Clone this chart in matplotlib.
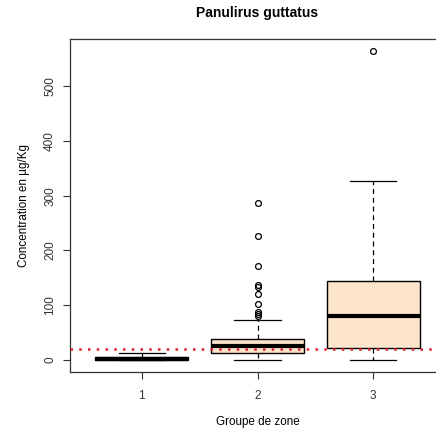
import matplotlib.pyplot as plt

plt.rcParams['font.family'] = ['Liberation Sans', 'DejaVu Sans']

# valeurs (µg/Kg)
groupes = ["1", "2", "3"]
q1 = [0, 11.5, 20.5]
mediane = [2, 25, 79]
q3 = [4, 38, 143]
moustache_bas = [0, 0, 0]
moustache_haut = [12, 73, 326]
aberrants = [
    [],
    [79, 84, 88, 101, 120, 133, 136, 171, 227, 287],
    [564],
]
seuil = 20
yticks = [0, 100, 200, 300, 400, 500]

stats = []
for i in range(len(groupes)):
    stats.append({
        "label": groupes[i],
        "q1": q1[i], "med": mediane[i], "q3": q3[i],
        "whislo": moustache_bas[i], "whishi": moustache_haut[i],
        "fliers": aberrants[i],
    })

fig = plt.figure(figsize=(4.36, 4.34), dpi=100)
ax = fig.add_axes([0.1606, 0.1429, 0.86, 0.767])

ax.bxp(stats, positions=[1, 2, 3], widths=0.8, patch_artist=True,
       boxprops=dict(facecolor="#fde5cc", edgecolor="black", linewidth=1),
       medianprops=dict(color="black", linewidth=3),
       whiskerprops=dict(color="black", linestyle=(0, (4, 3)), linewidth=0.9),
       capprops=dict(color="black", linewidth=0.9),
       capwidths=0.4,
       flierprops=dict(marker="o", markerfacecolor="none", markeredgecolor="black",
                       markersize=4.2, markeredgewidth=0.9))

ax.axhline(seuil, color="#e0202a", linestyle=(0, (1, 2.5)), linewidth=1.8, zorder=5)

ax.set_xlim(0.38, 3.62)
ax.set_ylim(-22.6, 586.6)
ax.set_yticks(yticks)
ax.set_yticklabels([str(v) for v in yticks], rotation=90, va="center")
ax.tick_params(axis="both", labelsize=8.5, length=5, width=0.8, color="#333333",
               labelcolor="#333333")
ax.tick_params(axis="y", pad=5)
ax.tick_params(axis="x", pad=8)
for s in ax.spines.values():
    s.set_color("#333333")
    s.set_linewidth(0.9)

ax.set_title("Panulirus guttatus", fontsize=10, fontweight="bold", pad=16)
ax.set_xlabel("Groupe de zone", fontsize=8.4, labelpad=10)
ax.set_ylabel("Concentration en µg/Kg", fontsize=8.4, labelpad=10)

fig.savefig("out.png", dpi=100)
